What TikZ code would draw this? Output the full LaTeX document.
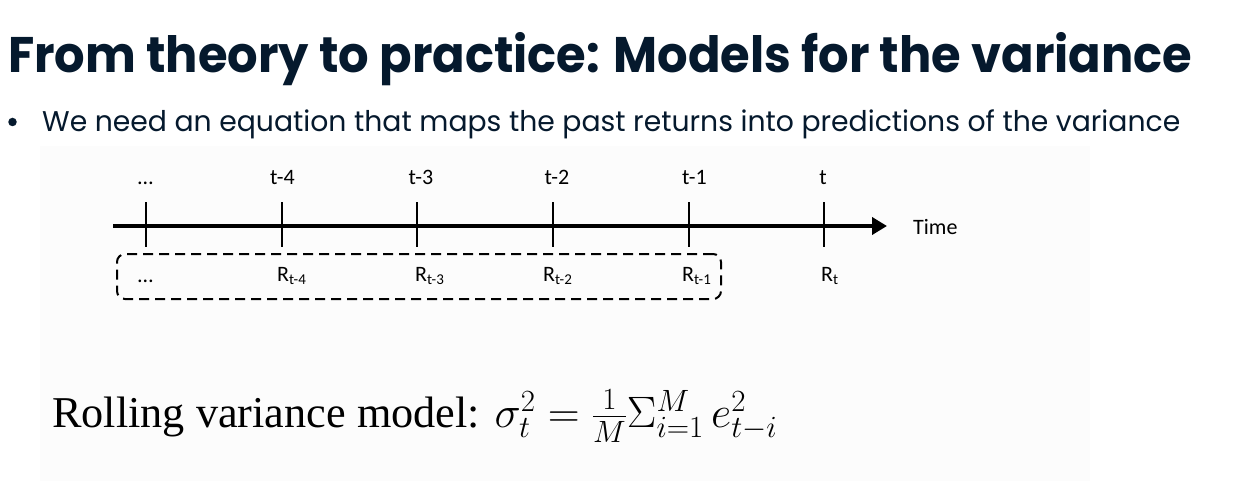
\RequirePackage{fix-cm}
\documentclass[tikz,border=0pt]{standalone}
\usepackage{fontspec}
\usepackage{graphicx}
\newfontfamily\titlefont{Poppins}
\newfontfamily\labfont{Carlito}
\newfontfamily\eqfont{Liberation Serif}
\usetikzlibrary{arrows.meta}
\definecolor{navy}{HTML}{05192D}
\definecolor{panelgray}{HTML}{FCFCFC}
\newcommand{\labsize}{\labfont\fontsize{22}{24}\selectfont}
\newcommand{\Rsub}[1]{R\raisebox{-3.5pt}{\fontsize{15}{16}\selectfont #1}}
\begin{document}
\begin{tikzpicture}[x=1pt,y=-1pt,
  lab/.style={font=\labsize, inner sep=0pt, anchor=base},
  rlab/.style={font=\labsize, inner sep=0pt, anchor=base west},
  tickline/.style={line width=2pt},
  axisline/.style={line width=4.5pt, -{Triangle[length=15pt,width=17pt]}},
  window/.style={draw, line width=2pt, dash pattern=on 10pt off 6pt, rounded corners=8pt, inner sep=0pt}
]
\useasboundingbox (0,0) rectangle (1249,481);
\fill[white] (0,0) rectangle (1249,481);
\fill[panelgray] (40,146) rectangle (1090,481);

% title and bullet
\node[anchor=base west, inner sep=0pt, text=navy] (title) at (8,73)
  {\resizebox{1184pt}{\height}{\titlefont\bfseries\fontsize{50}{60}\selectfont From theory to practice: Models for the variance}};
\node[circle, fill=navy, minimum size=8.5pt, inner sep=0pt] (dot) at (12.5,122) {};
\node[anchor=base west, inner sep=0pt, text=navy] (bullet) at (42,132)
  {\resizebox{1138pt}{\height}{\titlefont\fontsize{28.5}{34}\selectfont We need an equation that maps the past returns into predictions of the variance}};

% axis
\coordinate (a0) at (113,226);
\coordinate (a1) at (887,226);
\draw[axisline] (a0) -- (a1);
\foreach \x/\n in {146/0,282/1,417/2,553/3,689/4,824/5}{
  \coordinate (tt\n) at (\x,202);
  \coordinate (tb\n) at (\x,247);
  \draw[tickline] (tt\n) -- (tb\n);
}
\node[lab] (l0) at (145.5,185) {…};
\node[lab] (l1) at (282.5,185) {t-4};
\node[lab] (l2) at (421,185) {t-3};
\node[lab] (l3) at (557,185) {t-2};
\node[lab] (l4) at (694.5,185) {t-1};
\node[lab] (l5) at (823,185) {t};
\node[rlab] (time) at (913,234) {Time};

% window
\node[window, minimum width=604pt, minimum height=45pt] (win) at (419,276.5) {};
\node[lab] (r0) at (145.5,282) {…};
\node[rlab] (r1) at (277,281) {\Rsub{t-4}};
\node[rlab] (r2) at (415,281) {\Rsub{t-3}};
\node[rlab] (r3) at (543,281) {\Rsub{t-2}};
\node[rlab] (r4) at (682,281) {\Rsub{t-1}};
\node[rlab] (r5) at (821,281) {\Rsub{t}};

% formula
\node[anchor=base west, inner sep=0pt] (eq) at (52,427)
  {\resizebox{725pt}{\height}{\eqfont\fontsize{44}{52}\selectfont Rolling variance model: $\sigma_t^2 = \frac{1}{M}\Sigma_{i=1}^{M}\, e_{t-i}^2$}};
\end{tikzpicture}
\end{document}
